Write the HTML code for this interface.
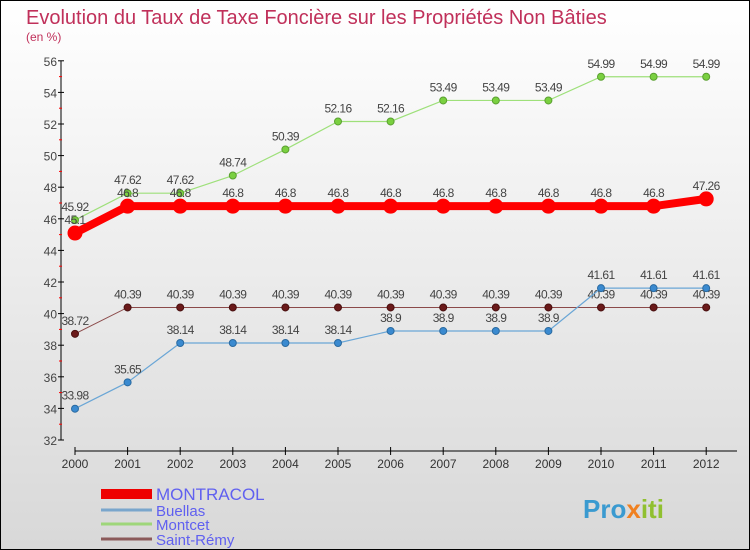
<!DOCTYPE html>
<html><head><meta charset="utf-8"><style>
body{margin:0}
#c{width:748px;height:548px;border:1px solid #000;background:linear-gradient(#fff,#d8d8d8);position:relative;overflow:hidden;font-family:"Liberation Sans",sans-serif}
</style></head><body>
<div id="c">
<svg id="s" width="748" height="548" style="position:absolute;left:0;top:0">
<text x="25" y="23" font-size="20" fill="#c0305a">Evolution du Taux de Taxe Foncière sur les Propriétés Non Bâties</text>
<text x="25" y="40" font-size="12" fill="#c0305a">(en %)</text>
</svg>
</div>
<script>
const years=[2000,2001,2002,2003,2004,2005,2006,2007,2008,2009,2010,2011,2012];
const yTicks=[32,34,36,38,40,42,44,46,48,50,52,54,56];
const montracol=[45.1,46.8,46.8,46.8,46.8,46.8,46.8,46.8,46.8,46.8,46.8,46.8,47.26];
const buellas=[33.98,35.65,38.14,38.14,38.14,38.14,38.9,38.9,38.9,38.9,41.61,41.61,41.61];
const montcet=[45.92,47.62,47.62,48.74,50.39,52.16,52.16,53.49,53.49,53.49,54.99,54.99,54.99];
const saintRemy=[38.72,40.39,40.39,40.39,40.39,40.39,40.39,40.39,40.39,40.39,40.39,40.39,40.39];
const NS="http://www.w3.org/2000/svg",s=document.getElementById('s');
const X=i=>74+i*52.6, Y=v=>439-(v-32)*15.8;
function el(t,a,p){const e=document.createElementNS(NS,t);for(const k in a)e.setAttribute(k,a[k]);(p||s).appendChild(e);return e;}
let ya=el('line',{x1:60,y1:Y(56),x2:60,y2:Y(32),stroke:'#000'});


yTicks.forEach(v=>{
 el('line',{x1:57,x2:63,y1:Y(v),y2:Y(v),stroke:'#000'});
 if(v<56) el('line',{x1:58,x2:61,y1:Y(v+1),y2:Y(v+1),stroke:'#f00'});
 const t=el('text',{x:56,y:Y(v)+5,'font-size':12,fill:'#444','text-anchor':'end'});t.textContent=v;
 
 
});
let xa=el('line',{x1:X(0),y1:450,x2:736,y2:450,stroke:'#000'});


years.forEach((y,i)=>{
 el('line',{x1:X(i),x2:X(i),y1:446,y2:454,stroke:'#000'});
 const t=el('text',{x:X(i),y:467,'font-size':12,fill:'#333','text-anchor':'middle'});t.textContent=y;
 
 
});
function series(name,data,color,w,r,fill,stroke){
 const g=el('g',{});
 
 
 el('polyline',{points:data.map((v,i)=>X(i)+','+Y(v)).join(' '),fill:'none',stroke:color,'stroke-width':w},g);
 data.forEach((v,i)=>{
  const c=el('circle',{cx:X(i),cy:Y(v),r:r,fill:fill,stroke:stroke,'stroke-width':1},g);
  
  
  const t=el('text',{x:X(i),y:Y(v)-9,'font-size':12,fill:'#444','text-anchor':'middle','letter-spacing':'-0.6'},g);t.textContent=v;
  
  
 });
}
series('saint-remy',saintRemy,'#8b4a4a',1,3.5,'#6b1a1a','#4a1010');
series('buellas',buellas,'#6aa6d6',1.2,3.5,'#3a8ad0','#2a6aa0');
series('montcet',montcet,'#9ee07a',1.2,3.5,'#7ad040','#5aa030');
series('montracol',montracol,'#f00',8,7,'#f00','#f00');
const leg=[['MONTRACOL','#e00',10,17],['Buellas','#7aa6cc',3,15],['Montcet','#9ed67a',3,15],['Saint-Rémy','#8b5a5a',3,15]];
const ly=[493,509,523,538];
leg.forEach((l,i)=>{
 const g=el('g',{});
 
 
 el('line',{x1:100,x2:151,y1:ly[i],y2:ly[i],stroke:l[1],'stroke-width':l[2]},g);
 const t=el('text',{x:155,y:ly[i]+6,'font-size':l[3],fill:'#6060f0'},g);t.textContent=l[0];
});
const lg=el('text',{x:582,y:517,'font-size':26,'font-weight':'bold',fill:'#3a9ad0'});


lg.innerHTML='Pro<tspan fill="#f08020">x</tspan><tspan fill="#90c030">iti</tspan>';
</script>
</body></html>
